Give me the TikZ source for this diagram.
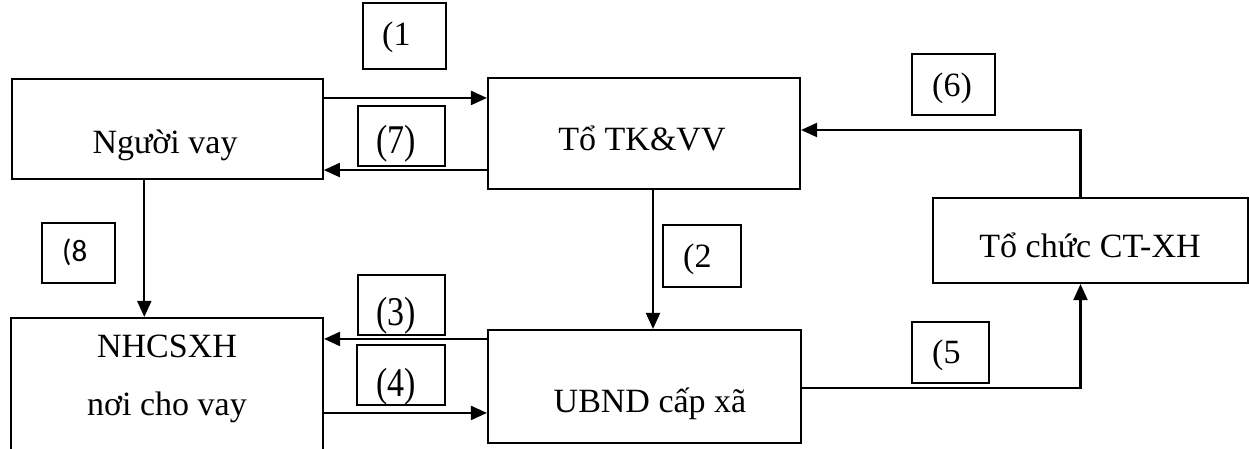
\documentclass[tikz,border=0pt]{standalone}
\usepackage{fontspec}
\usepackage{graphicx}
\setmainfont{Liberation Serif}
\newfontfamily\lblsans{Carlito}
\usetikzlibrary{arrows.meta}
\newcommand{\tallnum}[1]{\scalebox{1}[1.2]{#1}}
\begin{document}
\begin{tikzpicture}[x=1pt,y=-1pt,
  box/.style={draw, fill=white, line width=2.1pt, inner sep=0pt},
  lbl/.style={draw, fill=white, line width=2.1pt, inner sep=0pt},
  txt/.style={anchor=base, inner sep=0pt, font=\fontsize{34}{40}\selectfont},
  stxt/.style={anchor=base, inner sep=0pt, font=\lblsans\fontsize{31}{36}\selectfont},
  arr/.style={line width=2.1pt, -{Triangle[length=16pt,width=14pt]}}]
\useasboundingbox (0,0) rectangle (1249,449);
\clip (0,0) rectangle (1249,449);
\fill[white] (0,0) rectangle (1249,449);
% main boxes
\node[box, minimum width=311pt, minimum height=100pt] (nv) at (167.3,129) {};
\node[box, minimum width=312pt, minimum height=111pt] (tk) at (644,133.5) {};
\node[box, minimum width=313pt, minimum height=113pt] (ub) at (644.5,386.5) {};
\node[box, minimum width=315pt, minimum height=85pt] (tc) at (1090.5,240.5) {};
\node[box, minimum width=312pt, minimum height=152pt] (nh) at (167,394) {};
% main texts
\node[txt] (nvt) at (165,154) {Người vay};
\node[txt] (tkt) at (642,151) {Tổ TK\&VV};
\node[txt] (tct) at (1090,257) {Tổ chức CT-XH};
\node[txt] (ubt) at (650,412) {UBND cấp xã};
\node[txt] (nht1) at (167,357) {NHCSXH};
\node[txt] (nht2) at (167,415) {nơi cho vay};
% label boxes
\node[lbl, minimum width=83pt, minimum height=66pt] (l1) at (404.5,36) {};
\node[lbl, minimum width=87pt, minimum height=60pt] (l7) at (401.5,136) {};
\node[lbl, minimum width=87pt, minimum height=60pt] (l3) at (401.5,305) {};
\node[lbl, minimum width=88pt, minimum height=60pt] (l4) at (401,375) {};
\node[lbl, minimum width=73pt, minimum height=60pt] (l8) at (78.5,253) {};
\node[lbl, minimum width=83pt, minimum height=61pt] (l6) at (953.5,84.5) {};
\node[lbl, minimum width=78pt, minimum height=62pt] (l2) at (702,256) {};
\node[lbl, minimum width=77pt, minimum height=61pt] (l5) at (950.5,352.5) {};
% label texts
\node[txt] (l1t) at (402,46) {(1\phantom{)}};
\node[txt] (l7t) at (396,154) {\tallnum{(7)}};
\node[txt] (l3t) at (396,325) {\tallnum{(3)}};
\node[txt] (l4t) at (396,396) {\tallnum{(4)}};
\node[stxt] (l8t) at (79.5,261) {(8\phantom{)}};
\node[txt] (l6t) at (952,97) {(6)};
\node[txt] (l2t) at (703,267) {(2\phantom{)}};
\node[txt] (l5t) at (952,363) {(5\phantom{)}};
% connectors
\coordinate (c1) at ([yshift=-20pt]nv.north east);
\draw[arr] (c1) -- (c1 -| tk.west);
\coordinate (c7) at ([yshift=20pt]tk.south west);
\draw[arr] (c7) -- (c7 -| nv.east);
\coordinate (c8) at ([xshift=-23pt]nv.south);
\draw[arr] (c8) -- (c8 |- nh.north);
\coordinate (c2) at ([xshift=9pt]tk.south);
\draw[arr] (c2) -- (c2 |- ub.north);
\coordinate (c3) at ([yshift=-10pt]ub.north west);
\draw[arr] (c3) -- (c3 -| nh.east);
\coordinate (c4) at ([yshift=-96pt]nh.north east);
\draw[arr] (c4) -- (c4 -| ub.west);
\coordinate (c5) at ([yshift=-1.5pt]ub.east);
\draw[arr] (c5) -| ([xshift=-10pt]tc.south);
\coordinate (c6) at ([yshift=3.5pt]tk.east);
\draw[arr] ([xshift=-10pt]tc.north) |- (c6);
\end{tikzpicture}
\end{document}
